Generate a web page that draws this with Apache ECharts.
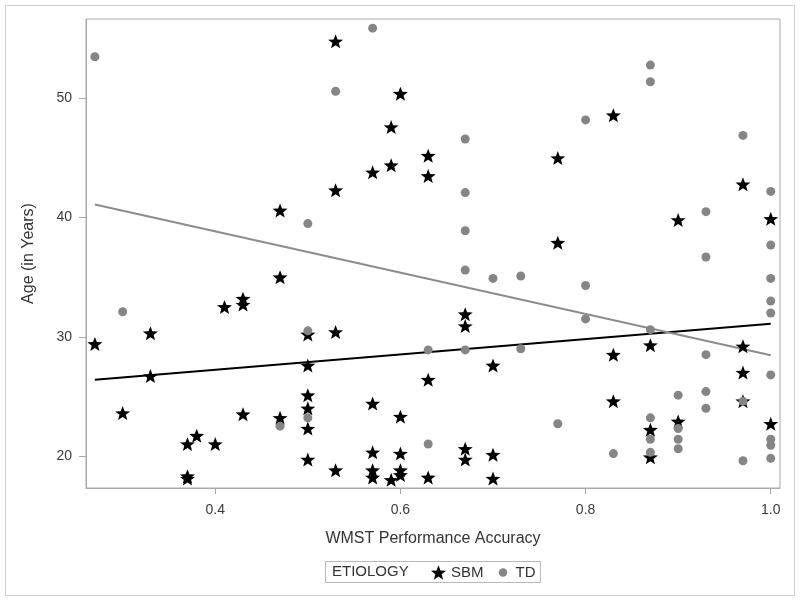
<!DOCTYPE html>
<html>
<head>
<meta charset="utf-8">
<script src="https://cdn.jsdelivr.net/npm/echarts@6/dist/echarts.min.js"></script>
<style>html,body{margin:0;padding:0;background:#fff}#c{width:800px;height:602px}</style>
</head>
<body>
<div id="c"></div>
<script>
// ---- data ----
var sbmPoints = [
  [0.27,29.4],[0.30,23.6],[0.33,30.3],[0.33,26.7],
  [0.37,21.0],[0.37,18.1],[0.37,18.3],[0.38,21.7],[0.40,21.0],[0.41,32.5],
  [0.43,33.2],[0.43,32.7],[0.43,23.5],
  [0.47,40.6],[0.47,35.0],[0.47,23.2],
  [0.50,30.2],[0.50,27.6],[0.50,25.1],[0.50,24.0],[0.50,22.3],[0.50,19.7],
  [0.53,54.8],[0.53,42.3],[0.53,30.4],[0.53,18.8],
  [0.57,43.8],[0.57,24.4],[0.57,20.3],[0.57,18.8],[0.57,18.2],
  [0.59,47.6],[0.59,44.4],[0.59,18.0],
  [0.60,50.4],[0.60,23.3],[0.60,20.2],[0.60,18.8],[0.60,18.4],
  [0.63,45.2],[0.63,43.5],[0.63,26.4],[0.63,18.2],
  [0.67,31.9],[0.67,30.9],[0.67,20.6],[0.67,19.7],
  [0.70,27.6],[0.70,20.1],[0.70,18.1],
  [0.77,45.0],[0.77,37.9],
  [0.83,48.6],[0.83,28.5],[0.83,24.6],
  [0.87,29.3],[0.87,22.2],[0.87,19.9],
  [0.90,39.8],[0.90,22.9],
  [0.97,42.8],[0.97,29.2],[0.97,27.0],[0.97,24.6],
  [1.00,39.9],[1.00,22.7]
];
var tdPoints = [
  [0.27,53.5],[0.30,32.1],[0.47,22.5],[0.50,39.5],[0.50,30.5],[0.50,23.2],
  [0.53,50.6],[0.57,55.9],[0.63,28.9],[0.63,21.0],
  [0.67,46.6],[0.67,42.1],[0.67,38.9],[0.67,35.6],[0.67,28.9],
  [0.70,34.9],[0.73,35.1],[0.73,29.0],[0.77,22.7],
  [0.80,48.2],[0.80,34.3],[0.80,31.5],[0.83,20.2],
  [0.87,52.8],[0.87,51.4],[0.87,30.6],[0.87,23.2],[0.87,21.4],[0.87,20.3],
  [0.90,25.1],[0.90,22.3],[0.90,21.4],[0.90,20.6],
  [0.93,40.5],[0.93,36.7],[0.93,28.5],[0.93,25.4],[0.93,24.0],
  [0.97,46.9],[0.97,24.6],[0.97,19.6],
  [1.00,42.2],[1.00,37.7],[1.00,34.9],[1.00,33.0],[1.00,32.0],[1.00,26.8],[1.00,21.4],[1.00,20.9],[1.00,19.8]
];
var sbmFit = [[0.27,26.4],[1.00,31.1]];
var tdFit = [[0.27,41.1],[1.00,28.45]];
var xTicks = [0.4,0.6,0.8,1.0];
var yTicks = [20,30,40,50];
var groupNames = ['SBM','TD'];
var legendTitle = 'ETIOLOGY';
var xTitle = 'WMST Performance Accuracy';
var yTitle = 'Age (in Years)';

// ---- chart ----
var STAR = 'path://M50 0 L62.34 33.01 L97.55 34.55 L69.97 56.49 L79.39 90.45 L50 71 L20.61 90.45 L30.03 56.49 L2.45 34.55 L37.66 33.01 Z';
var SMALLDOT = 'path://M0 0 M14 14 M7 3 A4 4 0 1 1 7 11 A4 4 0 1 1 7 3 Z';
var FONT = '"Liberation Sans", Arial, sans-serif';
var chart = echarts.init(document.getElementById('c'), null, {renderer:'canvas'});
chart.setOption({
  animation: false,
  backgroundColor: '#fff',
  textStyle: {fontFamily: FONT},
  grid: {left: 86, top: 19, right: 20, bottom: 114, show: true, borderColor: '#a8a8a8', borderWidth: 1, containLabel: false},
  xAxis: {
    type: 'value', min: 0.2604, max: 1.010,
    name: xTitle, nameLocation: 'middle', nameGap: 43,
    nameTextStyle: {fontSize: 16, color: '#333', fontFamily: FONT},
    axisLine: {show: true, lineStyle: {color: '#a8a8a8'}},
    axisTick: {show: true, length: 6, customValues: xTicks, lineStyle: {color: '#a8a8a8'}},
    axisLabel: {customValues: xTicks, margin: 15, fontSize: 14, color: '#3a3a3a', fontFamily: FONT,
      formatter: function(v){ return v.toFixed(1); }},
    splitLine: {show: false}
  },
  yAxis: {
    type: 'value', min: 17.31, max: 56.67,
    name: yTitle, nameLocation: 'middle', nameGap: 49, nameRotate: 90,
    nameTextStyle: {fontSize: 16, color: '#333', fontFamily: FONT},
    axisLine: {show: true, lineStyle: {color: '#a8a8a8'}},
    axisTick: {show: true, length: 7, customValues: yTicks, lineStyle: {color: '#a8a8a8'}},
    axisLabel: {customValues: yTicks, margin: 14, fontSize: 14, color: '#3a3a3a', fontFamily: FONT},
    splitLine: {show: false}
  },
  legend: {
    data: [{name: groupNames[0], icon: STAR}, {name: groupNames[1], icon: SMALLDOT}],
    left: 431, top: 565, padding: 0, itemGap: 12, itemWidth: 15, itemHeight: 15,
    selectedMode: false,
    textStyle: {fontSize: 15, color: '#333', fontFamily: FONT}
  },
  graphic: [
    {type: 'rect', shape: {x: 5.5, y: 5.5, width: 789, height: 590}, style: {fill: 'none', stroke: '#cfcfcf', lineWidth: 1}, silent: true},
    {type: 'rect', shape: {x: 325.5, y: 561.5, width: 215, height: 21}, style: {fill: 'none', stroke: '#b8b8b8', lineWidth: 1}, silent: true},
    {type: 'text', left: 332, top: 564, style: {text: legendTitle, fontSize: 15, fill: '#333', font: '15px ' + FONT}, silent: true}
  ],
  series: [
    {name: 'SBM fit', type: 'line', data: sbmFit, symbol: 'none', silent: true, lineStyle: {color: '#000', width: 2}, z: 2},
    {name: 'TD fit', type: 'line', data: tdFit, symbol: 'none', silent: true, lineStyle: {color: '#8c8c8c', width: 2}, z: 2},
    {name: groupNames[0], type: 'scatter', data: sbmPoints, symbol: STAR, symbolSize: [15, 14], itemStyle: {color: '#000', opacity: 1}, z: 3},
    {name: groupNames[1], type: 'scatter', data: tdPoints, symbol: 'circle', symbolSize: 9, itemStyle: {color: '#858585', opacity: 1}, z: 4}
  ]
});
</script>
</body>
</html>
